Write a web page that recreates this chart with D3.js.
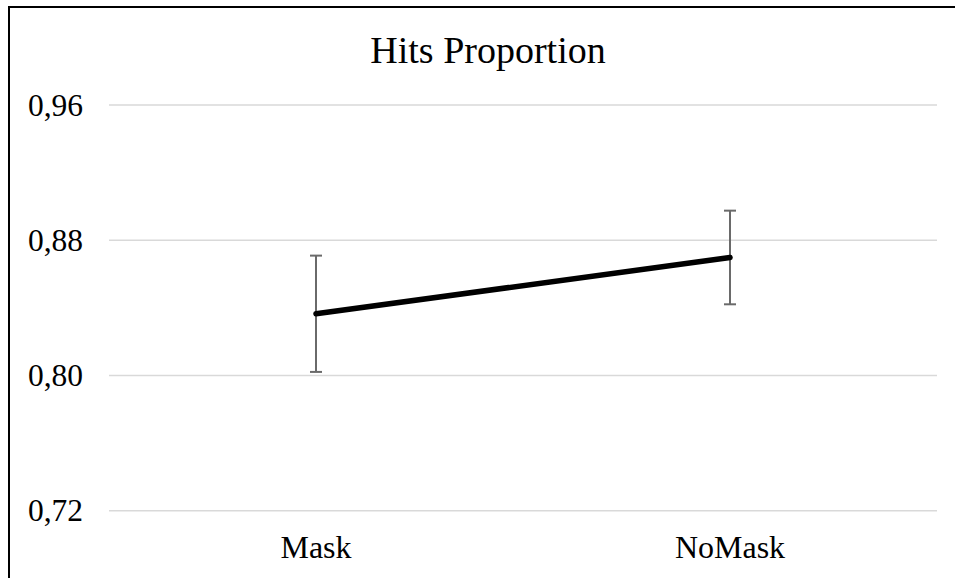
<!DOCTYPE html>
<html>
<head>
<meta charset="utf-8">
<script src="https://cdn.jsdelivr.net/npm/d3@7"></script>
<style>
  html, body { margin: 0; padding: 0; background: #fff; }
  svg { display: block; }
</style>
</head>
<body>
<svg id="chart" width="955" height="578"></svg>
<script>
const title = "Hits Proportion";
const categories = ["Mask", "NoMask"];
const means = [0.8365, 0.8698];
const errors = [0.0344, 0.0277];
const yTicks = [0.72, 0.80, 0.88, 0.96];

const svg = d3.select("#chart");
const W = 955, H = 578;
const font = "'Liberation Serif', 'Times New Roman', serif";

svg.append("rect").attr("x", 0).attr("y", 0).attr("width", W).attr("height", H).attr("fill", "#fff");

// chart frame (left & top visible)
svg.append("path")
  .attr("d", `M9,${H + 5}V7H${W + 5}`)
  .attr("fill", "none").attr("stroke", "#000").attr("stroke-width", 2);

const plotLeft = 109, plotRight = 937;
const x = d3.scaleBand().domain(categories).range([plotLeft, plotRight]);
const y = d3.scaleLinear().domain([0.72, 0.96]).range([510.7, 105]);

// gridlines
svg.append("g").selectAll("line").data(yTicks).join("line")
  .attr("x1", plotLeft).attr("x2", plotRight)
  .attr("y1", d => y(d)).attr("y2", d => y(d))
  .attr("stroke", "#d9d9d9").attr("stroke-width", 1.5);

// y axis labels
const yAxis = d3.axisLeft(y).tickValues(yTicks).tickSize(0).tickPadding(0)
  .tickFormat(d => d3.format(".2f")(d).replace(".", ","));
const gy = svg.append("g").attr("transform", `translate(83,0)`).call(yAxis);
gy.select(".domain").remove();
gy.selectAll("text").attr("font-family", font).attr("font-size", 31.5).attr("fill", "#000");

// x axis labels
const xAxis = d3.axisBottom(x).tickSize(0).tickPadding(0);
const gx = svg.append("g").attr("transform", `translate(0,535.5)`).call(xAxis);
gx.select(".domain").remove();
gx.selectAll("text").attr("font-family", font).attr("font-size", 32).attr("fill", "#000");

const cx = d => x(d) + x.bandwidth() / 2;

// error bars
const eb = svg.append("g").attr("stroke", "#6a6a6a").attr("stroke-width", 2);
categories.forEach((c, i) => {
  const top = y(means[i] + errors[i]), bot = y(means[i] - errors[i]);
  eb.append("line").attr("x1", cx(c)).attr("x2", cx(c)).attr("y1", top).attr("y2", bot);
  eb.append("line").attr("x1", cx(c) - 6).attr("x2", cx(c) + 6).attr("y1", top).attr("y2", top);
  eb.append("line").attr("x1", cx(c) - 6).attr("x2", cx(c) + 6).attr("y1", bot).attr("y2", bot);
});

// line
const line = d3.line().x((d, i) => cx(categories[i])).y(d => y(d));
svg.append("path").datum(means).attr("d", line)
  .attr("fill", "none").attr("stroke", "#000").attr("stroke-width", 5.5).attr("stroke-linecap", "round");

// title
svg.append("text").attr("x", 488).attr("y", 62.5)
  .attr("text-anchor", "middle").attr("font-family", font).attr("font-size", 38)
  .attr("fill", "#000").text(title);
</script>
</body>
</html>
